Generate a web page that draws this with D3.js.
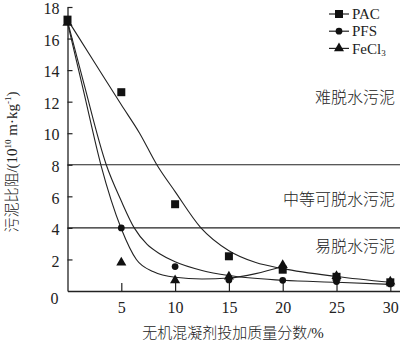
<!DOCTYPE html>
<html>
<head>
<meta charset="utf-8">
<script src="https://cdn.jsdelivr.net/npm/d3@7"></script>
<style>
  html, body { margin: 0; padding: 0; background: #fff; }
  svg { display: block; }
  text { font-family: "Liberation Serif", "Times New Roman", "Noto Sans CJK SC", serif; fill: #222; }
  .cjk { font-family: "Liberation Serif", "Noto Sans CJK SC", serif; font-weight: 300; }
</style>
</head>
<body>
<svg id="chart" width="400" height="343"></svg>
<script>
// Dose of inorganic coagulant (mass fraction, %)
const doses = [0, 5, 10, 15, 20, 25, 30];
// Specific resistance to filtration, 10^10 m/kg
const pacValues   = [17.2, 12.6, 5.5, 2.2, 1.35, 0.9, 0.55];
const pfsValues   = [17.1, 4.0, 1.55, 0.7, 0.68, 0.6, 0.45];
const fecl3Values = [17.0, 1.8, 0.68, 0.92, 1.65, 0.95, 0.6];

// Fitted trend curves for each coagulant
const pacFitX   = [0, 2.5, 5, 6.7, 8.3, 10, 12.4, 15, 17.5, 20, 25, 30];
const pacFitY   = [17.2, 14.5, 11.8, 10.0, 8.0, 6.3, 4.0, 2.55, 1.8, 1.42, 0.92, 0.55];
const pfsFitX   = [0, 1.5, 3.6, 5, 6.2, 7.4, 8.6, 10, 12.5, 15, 20, 25, 30];
const pfsFitY   = [17.1, 13.2, 8.0, 5.7, 4.0, 2.95, 2.35, 1.85, 1.3, 0.98, 0.68, 0.55, 0.42];
const fecl3FitX = [0, 1.5, 3.1, 5, 6.4, 8, 10, 12.5, 15, 17.5, 20];
const fecl3FitY = [17.0, 12.65, 8.0, 3.95, 2.0, 1.22, 0.87, 0.76, 0.82, 1.1, 1.55];

// Dewaterability class boundaries and labels
const thresholds = [8, 4];
const zoneLabels = ["难脱水污泥", "中等可脱水污泥", "易脱水污泥"];
const zoneLabelY = [12.3, 5.8, 2.8];

const xTicks = [5, 10, 15, 20, 25, 30];
const yTicks = [0, 2, 4, 6, 8, 10, 12, 14, 16, 18];

const seriesNames = ["PAC", "PFS", "FeCl"];

const ink = "#222";
const svg = d3.select("#chart");

const x = d3.scaleLinear().domain([0, 30.9]).range([67.5, 400]);
const y = d3.scaleLinear().domain([0, 18]).range([291, 7]);

// Boundary lines between dewaterability classes
svg.append("g").selectAll("line").data(thresholds).join("line")
  .attr("x1", x(0)).attr("x2", x(30.9))
  .attr("y1", d => y(d)).attr("y2", d => y(d))
  .attr("stroke", ink).attr("stroke-width", 1.1);

// Axes with inward ticks
const xAxis = svg.append("g").attr("transform", `translate(0,${y(0)})`)
  .call(d3.axisBottom(x).tickValues(xTicks).tickSize(-8).tickSizeOuter(0).tickPadding(10));
const yAxis = svg.append("g").attr("transform", `translate(${x(0)},0)`)
  .call(d3.axisLeft(y).tickValues(yTicks).tickSize(-5).tickSizeOuter(0).tickPadding(8));

[xAxis, yAxis].forEach(g => {
  g.select(".domain").attr("stroke", ink).attr("stroke-width", 1.3);
  g.selectAll(".tick line").attr("stroke", ink).attr("stroke-width", 1.2);
  g.selectAll(".tick text").attr("font-size", 16).attr("fill", ink)
    .style("font-family", '"Liberation Serif", serif');
});
xAxis.selectAll(".tick text").attr("dy", "0.72em");
yAxis.selectAll(".tick text").attr("dy", "0.42em");
yAxis.selectAll(".tick").filter(d => d === 0).select("text").attr("dy", "0.75em").attr("x", -9);
yAxis.selectAll(".tick").filter(d => d === 0).select("line").remove();

// Fitted curves
const line = d3.line().x(d => x(d[0])).y(d => y(d[1])).curve(d3.curveMonotoneX);
const fits = [
  d3.zip(pacFitX, pacFitY),
  d3.zip(pfsFitX, pfsFitY),
  d3.zip(fecl3FitX, fecl3FitY)
];
svg.append("g").selectAll("path").data(fits).join("path")
  .attr("d", line).attr("fill", "none").attr("stroke", ink).attr("stroke-width", 1.1);

// Markers
const shapes = [
  d3.symbol().type(d3.symbolSquare).size(64),
  d3.symbol().type(d3.symbolCircle).size(36),
  d3.symbol().type(d3.symbolTriangle).size(44)
];
const seriesValues = [pacValues, pfsValues, fecl3Values];
// triangles first, then circles, squares on top
[2, 1, 0].forEach(i => {
  svg.append("g").selectAll("path").data(d3.zip(doses, seriesValues[i])).join("path")
    .attr("d", shapes[i])
    .attr("transform", d => `translate(${x(d[0])},${y(d[1])})`)
    .attr("fill", "#111");
});

// Legend
const legend = svg.append("g");
seriesNames.forEach((name, i) => {
  const cy = 14 + i * 17.2;
  legend.append("line").attr("x1", 329).attr("x2", 349).attr("y1", cy).attr("y2", cy)
    .attr("stroke", ink).attr("stroke-width", 1.2);
  legend.append("path").attr("d", shapes[i]).attr("transform", `translate(339,${cy})`).attr("fill", "#111");
  const t = legend.append("text").attr("x", 352).attr("y", cy + 5.2).attr("font-size", 15).text(name);
  if (name === "FeCl") {
    t.append("tspan").attr("font-size", 9).attr("dy", 2).text("3");
  }
});

// Zone labels
svg.append("g").selectAll("text").data(zoneLabels).join("text")
  .attr("class", "cjk")
  .attr("x", 395).attr("y", (d, i) => y(zoneLabelY[i]))
  .attr("text-anchor", "end").attr("dy", "0.35em").attr("font-size", 16)
  .text(d => d);

// Axis titles
svg.append("text").attr("class", "cjk")
  .attr("x", 233).attr("y", 338).attr("text-anchor", "middle").attr("font-size", 15)
  .text("无机混凝剂投加质量分数/%");

const yTitle = svg.append("text").attr("class", "cjk")
  .attr("transform", "translate(17,162) rotate(-90)")
  .attr("text-anchor", "middle").attr("font-size", 15);
yTitle.append("tspan").text("污泥比阻/(10");
yTitle.append("tspan").attr("font-size", 9).attr("dy", -6).text("10");
yTitle.append("tspan").attr("dy", 6).text(" m·kg");
yTitle.append("tspan").attr("font-size", 9).attr("dy", -6).text("-1");
yTitle.append("tspan").attr("dy", 6).text(")");
</script>
</body>
</html>
